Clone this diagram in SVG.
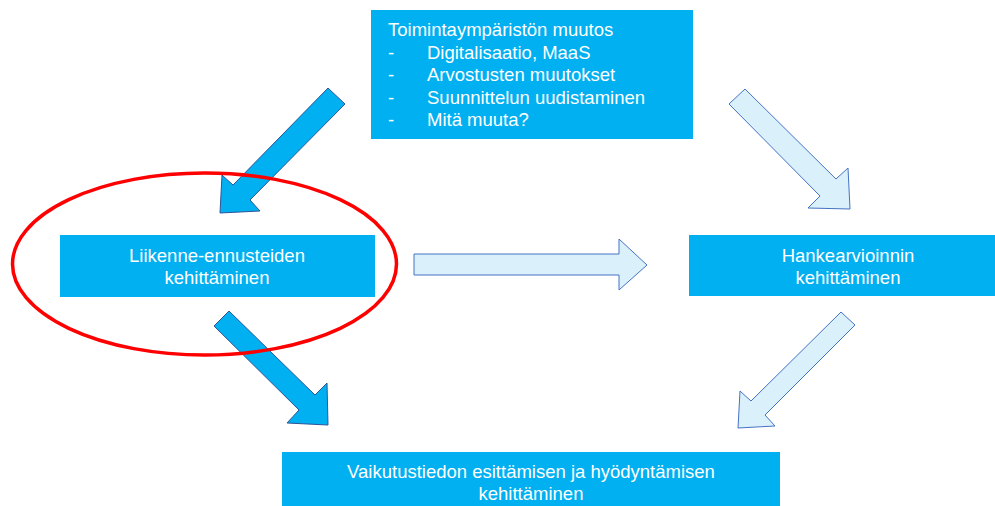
<svg xmlns="http://www.w3.org/2000/svg" width="995" height="506" viewBox="0 0 995 506">
  <style>
    .box { fill: #00B0F0; }
    .label { font-family: "Liberation Sans", Arial, sans-serif; font-size: 18.5px; fill: #FFFFFF; }
    .mid { text-anchor: middle; }
    .strong { fill: #00B0F0; stroke: #2F5597; stroke-width: 1; stroke-linejoin: miter; }
    .soft { fill: #DAF0FA; stroke: #4472C4; stroke-width: 1; stroke-linejoin: miter; }
    .ring { fill: none; stroke: #FF0000; stroke-width: 3.5; }
  </style>
  <rect width="995" height="506" fill="#FFFFFF"/>

  <!-- block arrows between the boxes -->
  <g id="connectors">
    <polygon class="strong" points="328,88 345,104 250,200 260,211 220,213 222,175 233,185"/>
    <polygon class="soft" points="745,89 836,179 848,168 850,209 808,208 820,196 729,104"/>
    <polygon class="soft" points="414,254 619,254 619,239 647,265 619,290 619,275 414,275"/>
    <polygon class="strong" points="229,311 315,395 327,383 328,425 287,423 299,410 214,326"/>
    <polygon class="soft" points="841,312 855,325 765,415 775,426 738,428 740,391 751,401"/>
  </g>

  <g id="toimintaymparisto">
    <rect class="box" x="371" y="10" width="322" height="129"/>
    <text class="label" x="388" y="36">Toimintaympäristön muutos</text>
    <text class="label" x="388" y="59">-</text>
    <text class="label" x="427" y="59">Digitalisaatio, MaaS</text>
    <text class="label" x="388" y="81">-</text>
    <text class="label" x="427" y="81">Arvostusten muutokset</text>
    <text class="label" x="388" y="104">-</text>
    <text class="label" x="427" y="104">Suunnittelun uudistaminen</text>
    <text class="label" x="388" y="126">-</text>
    <text class="label" x="427" y="126">Mitä muuta?</text>
  </g>

  <g id="liikenne-ennusteet">
    <rect class="box" x="60" y="235" width="315" height="62"/>
    <text class="label mid" x="217" y="262">Liikenne-ennusteiden</text>
    <text class="label mid" x="217" y="284">kehittäminen</text>
  </g>

  <g id="hankearviointi">
    <rect class="box" x="689" y="235" width="318" height="61"/>
    <text class="label mid" x="848" y="262">Hankearvioinnin</text>
    <text class="label mid" x="848" y="284">kehittäminen</text>
  </g>

  <g id="vaikutustieto">
    <rect class="box" x="282" y="452" width="498" height="60"/>
    <text class="label mid" x="531" y="478">Vaikutustiedon esittämisen ja hyödyntämisen</text>
    <text class="label mid" x="531" y="500">kehittäminen</text>
  </g>

  <!-- highlight ring around the forecasting box -->
  <g id="highlight">
    <ellipse class="ring" cx="204.5" cy="264" rx="192" ry="91"/>
  </g>
</svg>
